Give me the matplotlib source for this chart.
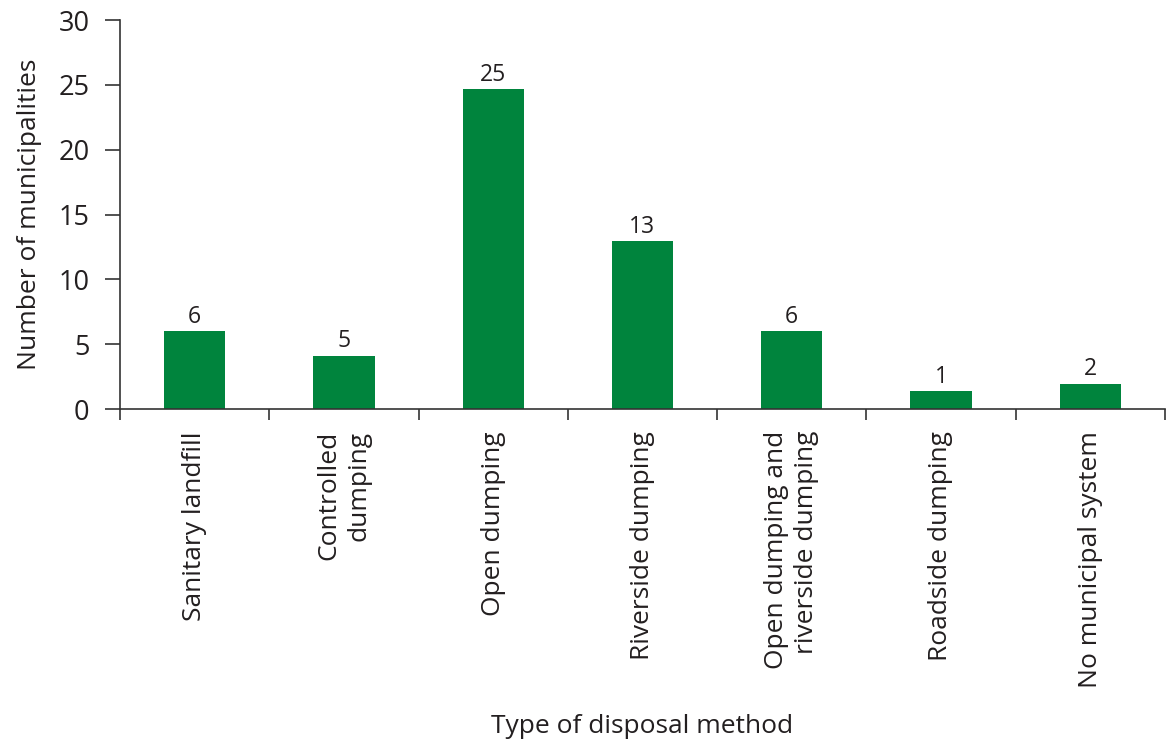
import matplotlib
matplotlib.use("Agg")
import matplotlib.pyplot as plt
import numpy as np

categories = ["Sanitary landfill", "Controlled\ndumping", "Open dumping",
              "Riverside dumping", "Open dumping and\nriverside dumping",
              "Roadside dumping", "No municipal system"]
bar_heights = [6.0, 4.1, 24.65, 12.95, 6.0, 1.37, 1.95]
value_labels = ["6", "5", "25", "13", "6", "1", "2"]
y_ticks = [0, 5, 10, 15, 20, 25, 30]

GREEN = "#00843D"
TXT = "#231F20"
plt.rcParams['font.family'] = ['Open Sans', 'DejaVu Sans']

fig = plt.figure(figsize=(11.66, 7.45), dpi=100)
ax = fig.add_axes([0.103, 0.451, 0.896, 0.522])

x = np.arange(len(categories))
ax.bar(x, bar_heights, width=0.41, color=GREEN, zorder=2)
for xi, h, lab in zip(x, bar_heights, value_labels):
    ax.text(xi, h + 0.2, lab, ha='center', va='bottom', fontsize=16.5, color=TXT)

ax.set_xlim(-0.5, len(categories) - 0.5)
ax.set_ylim(0, 30)
ax.set_yticks(y_ticks)
ax.set_yticklabels([str(t) for t in y_ticks], fontsize=19.5, color=TXT)
ax.set_xticks(np.arange(len(categories) + 1) - 0.5)
ax.set_xticklabels([])
ax.tick_params(axis='x', direction='out', length=8, width=1.2, color='#333333')
ax.tick_params(axis='y', direction='out', length=11, width=1.2, color='#333333', pad=11)

for xi, lab in zip(x, categories):
    ax.text(xi, -1.7, lab, rotation=90, ha='center', va='top', multialignment='right',
            fontsize=19, color=TXT, linespacing=1.25)

for s in ['top', 'right']:
    ax.spines[s].set_visible(False)
for s in ['left', 'bottom']:
    ax.spines[s].set_color('#333333')
    ax.spines[s].set_linewidth(1.2)

ax.set_ylabel("Number of municipalities", fontsize=19, color=TXT, labelpad=12)
fig.text(0.551, 0.025, "Type of disposal method", ha='center', va='center', fontsize=19, color=TXT)

fig.savefig("out.png", dpi=100)
